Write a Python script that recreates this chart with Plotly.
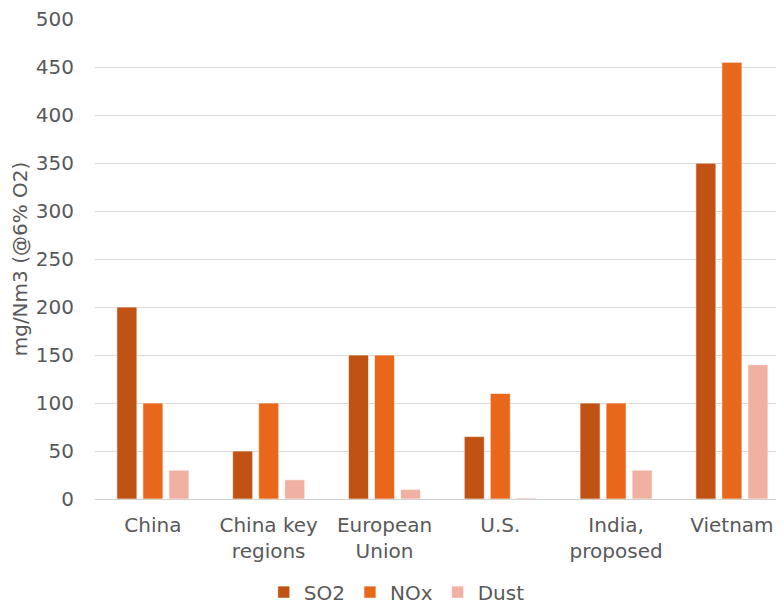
import plotly.graph_objects as go

categories = ["China", "China key<br>regions", "European<br>Union", "U.S.", "India,<br>proposed", "Vietnam"]
so2 = [200, 50, 150, 65, 100, 350]
nox = [100, 100, 150, 110, 100, 455]
dust = [30, 20, 10, 1, 30, 140]

series_names = ["SO2", "NOx", "Dust"]
series_colors = ["#C05213", "#E8671A", "#F0B0A2"]

fig = go.Figure()
for name, vals, col in zip(series_names, [so2, nox, dust], series_colors):
    fig.add_trace(go.Bar(
        x=categories, y=vals, name=name,
        marker=dict(color=col, line=dict(color="rgba(255,255,255,0.6)", width=1)),
    ))

font_family = "DejaVu Sans"
fig.update_layout(
    width=776, height=597,
    margin=dict(l=87, r=0, t=11, b=106, autoexpand=False),
    paper_bgcolor="white", plot_bgcolor="white",
    barmode="group", bargap=0.326, bargroupgap=0.23,
    font=dict(family=font_family, size=20, color="#595959"),
    legend=dict(orientation="h", x=0.438, xanchor="center", y=-0.194, yanchor="middle",
                font=dict(size=20, color="#595959"), itemwidth=30, traceorder="normal"),
    xaxis=dict(range=[-0.5, 5.45], showgrid=False, showline=False, ticks="", automargin=False,
               tickfont=dict(size=20, color="#595959"), ticklabelstandoff=12),
    yaxis=dict(range=[0, 500.2], tick0=0, dtick=50, showgrid=True, gridcolor="#D9D9D9", gridwidth=1,
               zeroline=True, zerolinecolor="#D0D0D0", zerolinewidth=1, automargin=False,
               ticklabeloverflow="allow",
               tickfont=dict(size=20, color="#595959"), ticklabelstandoff=20,
               title=dict(text="mg/Nm3 (@6% O2)", font=dict(size=20, color="#595959"), standoff=5)),
)

fig.write_html("out.html")
